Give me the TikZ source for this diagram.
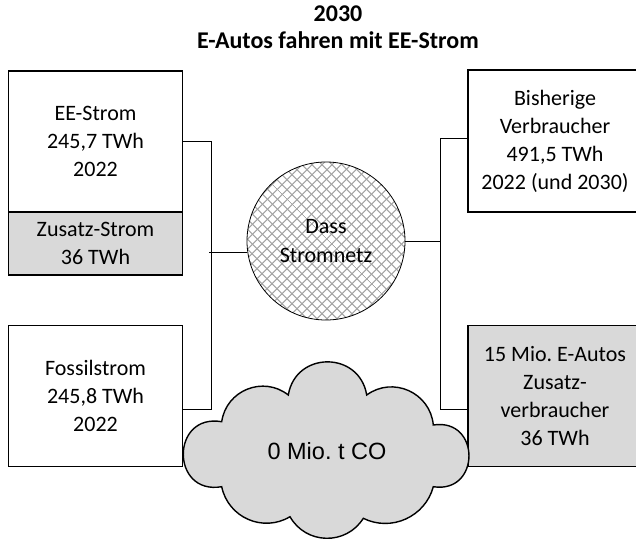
\documentclass[tikz,border=0pt]{standalone}
\usepackage{fontspec}
\setmainfont{Carlito}
\newfontfamily\arialfont{Liberation Sans}
\usetikzlibrary{patterns.meta}
\frenchspacing

\tikzset{
  kasten/.style={draw,line width=1.4pt,minimum width=174pt,inner sep=0pt,align=center,
    font=\fontsize{22}{28}\selectfont},
  grau/.style={fill=black!15},
  conn/.style={line width=0.7pt},
  gitter/.style={pattern={Lines[angle=#1,distance=6.9pt,line width=1.3pt]},pattern color=black!35},
  wolke/.style={draw,grau,line width=1.4pt},
}

\begin{document}
\begin{tikzpicture}[x=1pt,y=-1pt]
  \useasboundingbox (0,0) rectangle (636,540);
  \clip (0,0) rectangle (636,540);
  % Titel
  \node[font=\bfseries\fontsize{24}{27}\selectfont,align=center,anchor=base] (titel) at (338,49) {2030\\E-Autos fahren mit EE-Strom};
  % Erzeuger links
  \node[kasten,minimum height=141pt] (ee) at (95.5,141.4) {EE-Strom\\245,7 TWh\\2022};
  \node[kasten,grau,minimum height=63pt] (zusatz) at (95.5,243.5) {Zusatz-Strom\\36 TWh};
  \node[kasten,minimum height=141.5pt] (fossil) at (95.5,396) {Fossilstrom\\245,8 TWh\\2022};
  % Verbraucher rechts
  \node[kasten,minimum height=142pt] (bish) at (555,141) {Bisherige\\Verbraucher\\491,5 TWh\\2022 (und 2030)};
  \node[kasten,grau,minimum height=141pt] (emob) at (555,396.2) {15 Mio. E-Autos\\Zusatz-\\verbraucher\\36 TWh};
  % Netz
  \node[circle,draw,line width=0.8pt,minimum size=158pt,inner sep=0pt,align=center,
    preaction={gitter=45},preaction={gitter=-45},
    font=\fontsize{22}{29}\selectfont] (netz) at (326,241) {Dass\\Stromnetz};
  % Leitungen
  \draw[conn] (ee.east) -- ++(28,0) |- ([yshift=-13pt]fossil.east);
  \draw[conn] (netz.188.7) -- ++(-38,0);
  \draw[conn] ([yshift=3pt]bish.west) -- ++(-27.3,0) |- ([yshift=-13pt]emob.west);
  \draw[conn] (netz.east) -- ++(35.5,0);
  % Wolke
  \draw[wolke] (221.7,421.7) to[bend left=60,looseness=1.135] (288.3,395)
    to[bend left=80.7,looseness=1.465] (366.7,395)
    to[bend left=60.5,looseness=1.14] (433.3,425)
    to[bend left=98.8,looseness=2.0] (433.3,486.7)
    to[bend left=50.7,looseness=1.04] (363.3,518.3)
    to[bend left=59.2,looseness=1.125] (290,516.7)
    to[bend left=54.7,looseness=1.08] (221.7,486.7)
    to[bend left=99.7,looseness=2.05] cycle;
  \node[font=\arialfont\fontsize{23.5}{27}\selectfont,inner sep=0pt] (co) at (327,451.5) {0 Mio. t CO};
\end{tikzpicture}
\end{document}
